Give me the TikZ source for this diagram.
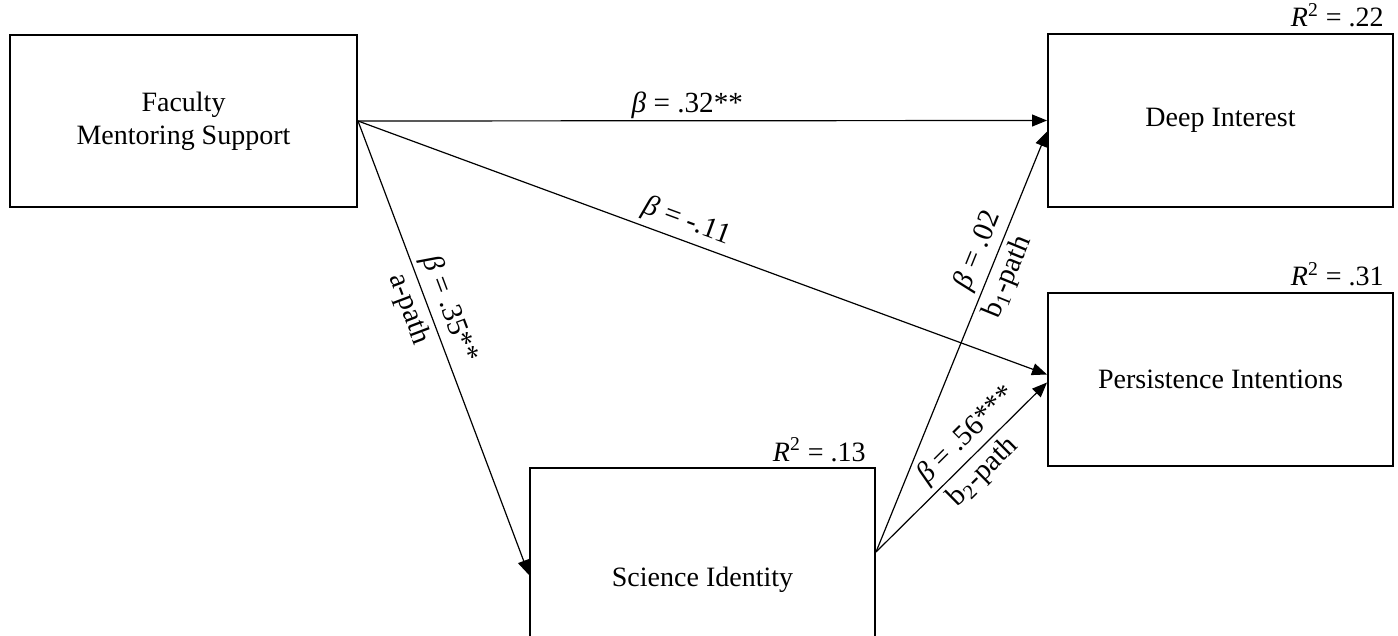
\documentclass[tikz,border=0pt]{standalone}
\usepackage{fontspec}
\setmainfont{Liberation Serif}
\usetikzlibrary{arrows.meta,calc}
\begin{document}
\begin{tikzpicture}[x=0.5pt,y=-0.5pt,
  box/.style={draw, line width=1pt, inner sep=0pt, align=center, font=\fontsize{14}{16.5}\selectfont},
  conn/.style={-{Triangle[length=7.5pt,width=6pt]}, line width=0.6pt},
  lab/.style={font=\fontsize{14.6}{16}\selectfont, sloped, inner sep=2.5pt},
  rsq/.style={font=\fontsize{14}{16}\selectfont, inner sep=0pt, anchor=base east}
]
\useasboundingbox (0,0) rectangle (1398,636);
\clip (0,0) rectangle (1398,636);
\node[box, minimum width=173.5pt, minimum height=86pt] (fms) at (183.5,121) {Faculty\\Mentoring Support};
\node[box, minimum width=172.5pt, minimum height=86.5pt] (di) at (1220.5,120.5) {Deep Interest};
\node[box, minimum width=172.5pt, minimum height=86.5pt] (pi) at (1220.5,379.5) {Persistence Intentions};
\node[box, minimum width=172.5pt, minimum height=112pt] (si) at (702.5,580) {Science Identity};

\node[rsq] (r1) at ($(di.north east)+(-10,-6)$) {\textit{R}\textsuperscript{2} = .22};
\node[rsq] (r2) at ($(pi.north east)+(-10,-6)$) {\textit{R}\textsuperscript{2} = .31};
\node[rsq] (r3) at ($(si.north east)+(-10,-6)$) {\textit{R}\textsuperscript{2} = .13};

\draw[conn] (fms.east) -- (di.west)
  node[lab, above, pos=0.478, inner sep=0.5pt] (l1) {\textit{β} = .32**};
\draw[conn] (fms.east) -- ($(pi.west)+(0,-5)$)
  node[lab, above, pos=0.468] (l2) {\textit{β} = -.11};
\draw[conn] (fms.east) -- ($(si.west)+(0,-5)$)
  node[lab, above, pos=0.43] (l3) {\textit{β} = .35**}
  node[lab, below, pos=0.40] (l4) {a-path};
\draw[conn] ($(si.east)+(0,-28)$) -- ($(di.west)+(0,11)$)
  node[lab, above, pos=0.70] (l5) {\textit{β} = .02}
  node[lab, below, pos=0.67] (l6) {b\textsubscript{1}-path};
\draw[conn] ($(si.east)+(0,-28)$) -- ($(pi.west)+(0,3)$)
  node[lab, above, pos=0.61] (l7) {\textit{β} = .56***}
  node[lab, below, pos=0.55] (l8) {b\textsubscript{2}-path};
\end{tikzpicture}
\end{document}
